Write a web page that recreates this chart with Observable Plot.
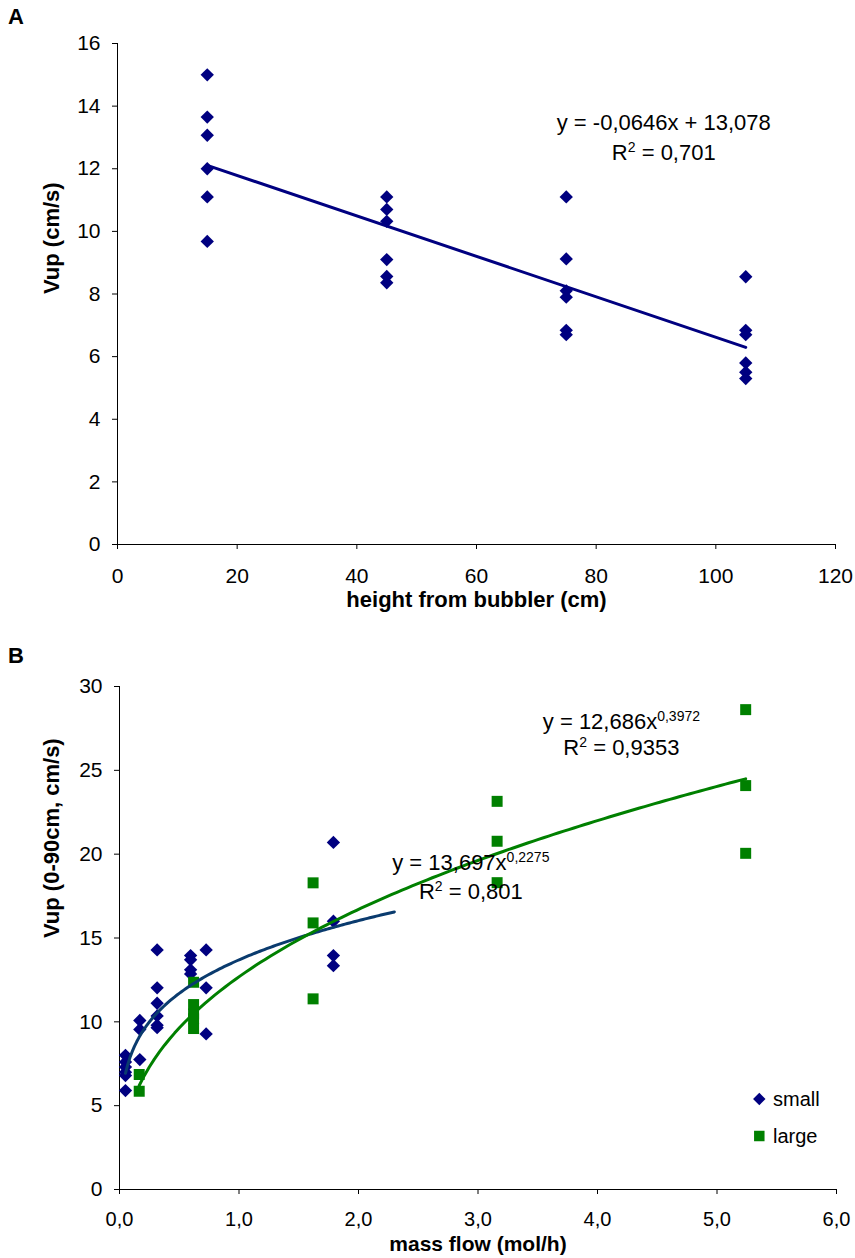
<!DOCTYPE html>
<html><head><meta charset="utf-8">
<script src="https://cdn.jsdelivr.net/npm/d3@7"></script>
<script src="https://cdn.jsdelivr.net/npm/@observablehq/plot@0.6"></script>
<style>
body{margin:0;background:#fff;}
#wrap{position:relative;width:855px;height:1258px;font-family:"Liberation Sans",Arial,sans-serif;overflow:hidden;}
.panel{position:absolute;left:0;}
.tag{position:absolute;left:8px;font-weight:bold;font-size:22px;line-height:22px;}
</style></head><body>
<div id="wrap"></div>
<script>
// ---------- Panel A data ----------
const heightA = [15,15,15,15,15,15, 45,45,45,45,45,45, 75,75,75,75,75,75, 105,105,105,105,105,105];
const vupA    = [15.0,13.65,13.07,12.0,11.1,9.68, 11.1,10.7,10.32,9.1,8.56,8.36, 11.1,9.12,8.1,7.9,6.84,6.7, 8.55,6.84,6.7,5.8,5.5,5.3];
const fitA = [-0.0646, 13.078];          // slope, intercept (from the chart's equation)
const fitRangeA = [15, 105];
const eqA = ["y = -0,0646x + 13,078", "R^{2} = 0,701"];
const xTicksA = [0,20,40,60,80,100,120];
const yTicksA = [0,2,4,6,8,10,12,14,16];
const xTitleA = "height from bubbler (cm)";
const yTitleA = "Vup (cm/s)";

// ---------- Panel B data ----------
const seriesNames = ["small", "large"];
const flowSmall = [0.05,0.05,0.05,0.05,0.05,0.05, 0.17,0.17,0.17, 0.315,0.315,0.315,0.315,0.315,0.315, 0.595,0.595,0.595,0.595, 0.725,0.725,0.725, 1.79,1.79,1.79,1.79];
const vupSmall  = [8.0,7.6,7.3,7.0,6.8,5.9, 10.08,9.55,7.75, 14.29,12.03,11.11,10.35,9.8,9.65, 13.95,13.7,13.1,12.86, 14.29,12.03,9.28, 20.7,16.0,13.95,13.35];
const flowLarge = [0.165,0.165, 0.62,0.62,0.62,0.62,0.62, 1.62,1.62,1.62, 3.16,3.16,3.16, 5.24,5.24,5.24];
const vupLarge  = [6.86,5.86, 12.36,11.03,10.47,10.18,9.6, 18.29,15.9,11.37, 23.15,20.77,18.3, 28.62,24.09,20.05];
const fitSmall = [13.697, 0.2275];       // a, b of y = a x^b (from the chart)
const fitRangeSmall = [0.05, 2.3];
const fitLarge = [12.686, 0.3972];
const fitRangeLarge = [0.165, 5.24];
const eqSmall = ["y = 13,697x^{0,2275}", "R^{2} = 0,801"];
const eqLarge = ["y = 12,686x^{0,3972}", "R^{2} = 0,9353"];
const xTicksB = [0,1,2,3,4,5,6];
const yTicksB = [0,5,10,15,20,25,30];
const xTitleB = "mass flow (mol/h)";
const yTitleB = "Vup (0-90cm, cm/s)";

// ---------- helpers ----------
const NAVY = "#000080", CURVE_BLUE = "#0a3b6e", GREEN = "#008000";
const FONT = '"Liberation Sans", Arial, sans-serif';
function superscripts(svg) {
  d3.select(svg).selectAll("text").each(function() {
    const t = this.textContent;
    if (!t.includes("^{")) return;
    const parts = t.split(/(\^\{[^}]*\})/).filter(s => s.length);
    this.textContent = "";
    let shifted = false;
    for (const p of parts) {
      const ts = d3.select(this).append("tspan");
      if (p.startsWith("^{")) { ts.text(p.slice(2, -1)).attr("font-size", "14px").attr("dy", -8); shifted = true; }
      else { ts.text(p); if (shifted) { ts.attr("dy", 8); shifted = false; } }
    }
  });
}
function powerCurve([a, b], [x0, x1], n = 120) {
  return d3.range(n + 1).map(i => { const x = x0 + (x1 - x0) * i / n; return {x, y: a * Math.pow(x, b)}; });
}
const wrap = document.getElementById("wrap");
const TICK_FS = 21, TITLE_FS = 22, EQ_FS = 22;

// ---------- Panel A ----------
const dataA = heightA.map((h, i) => ({h, v: vupA[i]}));
const lineA = fitRangeA.map(x => ({x, y: fitA[0] * x + fitA[1]}));
const plotA = Plot.plot({
  width: 855, height: 630,
  marginTop: 43, marginBottom: 86, marginLeft: 117, marginRight: 20,
  style: {fontFamily: FONT, fontSize: TICK_FS + "px", color: "#000", background: "#fff", overflow: "visible"},
  x: {domain: [0, 120]},
  y: {domain: [0, 16]},
  marks: [
    Plot.ruleY([0], {stroke: "#000"}),
    Plot.ruleX([0], {stroke: "#000"}),
    Plot.axisY({ticks: yTicksA, tickSize: 5, tickPadding: 12, label: null, stroke: "#000", fontSize: TICK_FS}),
    Plot.axisX({ticks: xTicksA, tickSize: 5, tickPadding: 19, label: null, stroke: "#000", fontSize: TICK_FS}),
    Plot.dot(dataA, {x: "h", y: "v", symbol: "diamond2", r: 6, fill: NAVY}),
    Plot.line(lineA, {x: "x", y: "y", stroke: NAVY, strokeWidth: 3}),
    Plot.text(eqA, {x: () => 91.3, y: (d, i) => 13.45 - i * 0.93, text: d => d, fill: "#000", fontSize: EQ_FS}),
    Plot.text([xTitleA], {frameAnchor: "bottom", dy: 62, text: d => d, fontWeight: "bold", fill: "#000", fontSize: TITLE_FS}),
    Plot.text([yTitleA], {frameAnchor: "left", dx: -66, rotate: -90, text: d => d, fontWeight: "bold", fill: "#000", fontSize: TITLE_FS})
  ]
});
superscripts(plotA);
plotA.classList.add("panel");
plotA.style.top = "0px";
wrap.appendChild(plotA);

// ---------- Panel B ----------
const dataSmall = flowSmall.map((x, i) => ({x, y: vupSmall[i]}));
const dataLarge = flowLarge.map((x, i) => ({x, y: vupLarge[i]}));
const plotB = Plot.plot({
  width: 855, height: 628,
  marginTop: 56, marginBottom: 69, marginLeft: 119, marginRight: 19,
  style: {fontFamily: FONT, fontSize: TICK_FS + "px", color: "#000", background: "#fff", overflow: "visible"},
  x: {domain: [0, 6]},
  y: {domain: [0, 30]},
  marks: [
    Plot.ruleY([0], {stroke: "#000"}),
    Plot.ruleX([0], {stroke: "#000"}),
    Plot.axisY({ticks: yTicksB, tickSize: 5, tickPadding: 12, label: null, stroke: "#000", fontSize: TICK_FS}),
    Plot.axisX({ticks: xTicksB, tickSize: 5, tickPadding: 17, label: null, stroke: "#000", fontSize: 20,
                tickFormat: d => d.toFixed(1).replace(".", ",")}),
    Plot.dot(dataSmall, {x: "x", y: "y", symbol: "diamond2", r: 6, fill: NAVY}),
    Plot.dot(dataLarge, {x: "x", y: "y", symbol: "square", r: 6.2, fill: GREEN}),
    Plot.line(powerCurve(fitSmall, fitRangeSmall), {x: "x", y: "y", stroke: CURVE_BLUE, strokeWidth: 3}),
    Plot.line(powerCurve(fitLarge, fitRangeLarge), {x: "x", y: "y", stroke: GREEN, strokeWidth: 3}),
    Plot.text(eqLarge, {x: () => 4.2, y: (d, i) => 27.87 - i * 1.55, text: d => d, fill: "#000", fontSize: EQ_FS}),
    Plot.text(eqSmall, {x: () => 2.94, y: (d, i) => 19.5 - i * 1.75, text: d => d, fill: "#000", fontSize: EQ_FS}),
    Plot.text([xTitleB], {frameAnchor: "bottom", dy: 61, text: d => d, fontWeight: "bold", fill: "#000", fontSize: 21}),
    Plot.text([yTitleB], {frameAnchor: "left", dx: -68, rotate: -90, text: d => d, fontWeight: "bold", fill: "#000", fontSize: TITLE_FS})
  ]
});
superscripts(plotB);
plotB.classList.add("panel");
plotB.style.top = "630px";
wrap.appendChild(plotB);

// ---------- panel tags ----------
for (const [label, top] of [["A", 6], ["B", 645]]) {
  const d = document.createElement("div");
  d.className = "tag"; d.textContent = label; d.style.top = top + "px";
  wrap.appendChild(d);
}

// ---------- legend (panel B) ----------
const leg = d3.select(wrap).append("svg")
  .attr("width", 110).attr("height", 70)
  .style("position", "absolute").style("left", "745px").style("top", "1085px");
const legSymbols = [d3.symbolDiamond2, d3.symbolSquare];
const legSizes = [Math.PI * 5.6 * 5.6, 110];
const legColors = [NAVY, GREEN];
seriesNames.forEach((name, i) => {
  const cy = 14 + i * 37;
  leg.append("path").attr("transform", `translate(14.3,${cy})`)
    .attr("d", d3.symbol(legSymbols[i], legSizes[i])()).attr("fill", legColors[i]);
  leg.append("text").attr("x", 28).attr("y", cy).attr("dy", "0.35em")
    .attr("font-family", FONT).attr("font-size", 20).attr("fill", "#000").text(name);
});
</script>
</body></html>
